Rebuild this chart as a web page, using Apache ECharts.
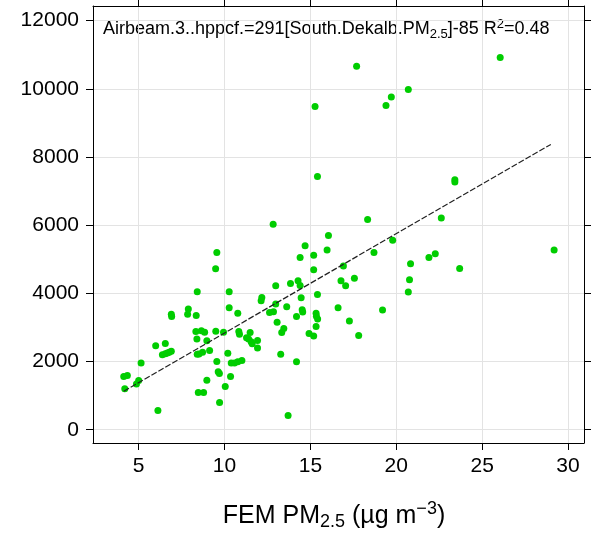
<!DOCTYPE html>
<html>
<head>
<meta charset="utf-8">
<script src="https://cdn.jsdelivr.net/npm/echarts@6/dist/echarts.min.js"></script>
<style>
  html, body { margin: 0; padding: 0; background: #fff; }
  #chart { width: 597px; height: 542px; }
</style>
</head>
<body>
<div id="chart"></div>
<script>
// FEM PM2.5 (x) vs Airbeam.3 hppcf (y)
var femPm = [
  26.05, 17.69, 20.70, 19.71, 19.40, 15.27, 15.41, 23.41, 23.41, 12.83,
  18.33, 22.62, 29.19, 16.05, 14.69, 15.97, 19.79, 14.40, 15.19, 18.70,
  21.90, 22.27, 20.83, 23.69, 15.19, 16.92, 12.98, 13.84, 14.28, 14.40,
  16.78, 17.05, 17.56, 20.77, 20.70, 15.41, 12.17, 14.46, 9.55, 9.48,
  8.41, 10.27, 7.89, 7.85, 6.90, 6.92, 8.35, 10.27, 10.77, 12.13,
  12.98, 13.62, 12.62, 12.85, 14.52, 14.55, 14.19, 15.33, 15.35, 15.42,
  15.33, 14.92, 15.19, 16.61, 17.27, 13.06, 13.45, 13.33, 8.33, 8.65,
  8.84, 8.39, 9.49, 9.94, 8.97, 8.41, 8.51, 8.72, 9.13, 5.99,
  6.55, 6.38, 6.55, 6.67, 6.90, 6.78, 5.14, 4.13, 4.34, 4.87,
  5.00, 4.19, 6.12, 8.47, 8.78, 8.97, 9.63, 9.70, 9.71, 10.04,
  10.35, 9.55, 10.19, 10.39, 10.58, 10.77, 11.01, 10.83, 10.87, 11.28,
  11.49, 11.40, 11.55, 11.61, 11.92, 11.92, 13.27, 14.19, 13.70, 17.81,
  19.20
];
var airbeam = [
  10920, 10660, 9980, 9760, 9510, 9480, 7430, 7330, 7270, 6030,
  6170, 6210, 5270, 5700, 5400, 5270, 5560, 5050, 5120, 5200,
  5050, 5160, 4870, 4730, 4690, 4800, 4220, 4290, 4370, 4230,
  4370, 4220, 4440, 4400, 4040, 3970, 3880, 3870, 5200, 4720,
  4050, 4050, 3540, 3390, 3390, 3320, 3350, 3580, 3420, 3780,
  3690, 3610, 3440, 3460, 3520, 3450, 3320, 3420, 3330, 3250,
  3030, 2820, 2750, 3580, 3190, 3150, 2970, 2850, 2880, 2900,
  2860, 2660, 2890, 2860, 2610, 2210, 2220, 2270, 2320, 2460,
  2530, 2200, 2230, 2250, 2300, 2270, 1960, 1560, 1590, 1340,
  1440, 1200, 560, 1090, 1090, 1450, 1700, 1650, 800, 1270,
  1560, 2000, 2240, 1960, 1960, 1990, 2030, 2880, 2800, 2700,
  2850, 2660, 2580, 2520, 2620, 2400, 2210, 1990, 420, 2760,
  3510
];
// fitted line end points, as drawn
var fitX = [4.13, 29.0];
var fitY = [1130, 8370];

var xTicks = [5, 10, 15, 20, 25, 30];
var yTicks = [0, 2000, 4000, 6000, 8000, 10000, 12000];

var font = 'Liberation Sans, Arial, sans-serif';

var points = femPm.map(function (v, i) { return [v, airbeam[i]]; });
var fitLine = fitX.map(function (v, i) { return [v, fitY[i]]; });

function makeX(pos, labels) {
    return {
        type: 'value',
        position: pos,
        min: 2.34,
        max: 30.93,
        axisLine: { show: true, onZero: false, lineStyle: { color: '#000', width: 1 } },
        axisTick: { show: true, inside: false, length: 7, customValues: xTicks, lineStyle: { color: '#000' } },
        axisLabel: { show: labels, customValues: xTicks, fontSize: 21, color: '#000', margin: 13, fontFamily: font },
        splitLine: { show: labels, lineStyle: { color: '#e3e3e3', width: 1 } }
    };
}
function makeY(pos, labels) {
    return {
        type: 'value',
        position: pos,
        min: -390,
        max: 12430,
        axisLine: { show: true, onZero: false, lineStyle: { color: '#000', width: 1 } },
        axisTick: { show: true, inside: false, length: 7, customValues: yTicks, lineStyle: { color: '#000' } },
        axisLabel: {
            show: labels, customValues: yTicks, fontSize: 21, color: '#000', margin: 14, fontFamily: font,
            formatter: function (v) { return String(v); }
        },
        splitLine: { show: labels, lineStyle: { color: '#e3e3e3', width: 1 } }
    };
}

var myChart = echarts.init(document.getElementById('chart'));
myChart.setOption({
    animation: false,
    backgroundColor: '#fff',
    grid: { left: 93, right: 13, top: 6, bottom: 99, containLabel: false, outerBoundsMode: 'none' },
    xAxis: [makeX('bottom', true), makeX('top', false)],
    yAxis: [makeY('left', true), makeY('right', false)],
    graphic: [
        {
            type: 'text',
            left: 103,
            top: 18,
            style: {
                text: 'Airbeam.3..hppcf.=291[South.Dekalb.PM{sub|2.5}]-85 R{sup|2}=0.48',
                fontSize: 18,
                fontFamily: font,
                fill: '#000',
                rich: {
                    sub: { fontSize: 13, fontFamily: font, fill: '#000', padding: [10, 0, 0, 0] },
                    sup: { fontSize: 13, fontFamily: font, fill: '#000', padding: [0, 0, 10, 0] }
                }
            }
        },
        {
            type: 'text',
            x: 334,
            y: 516,
            style: {
                text: 'FEM PM{sub|2.5} (µg m{sup|−3})',
                fontSize: 25,
                fontFamily: font,
                fill: '#000',
                align: 'center',
                verticalAlign: 'middle',
                rich: {
                    sub: { fontSize: 18, fontFamily: font, fill: '#000', padding: [12, 0, 0, 0] },
                    sup: { fontSize: 18, fontFamily: font, fill: '#000', padding: [0, 0, 14, 0] }
                }
            }
        }
    ],
    series: [
        {
            type: 'scatter',
            data: points,
            symbol: 'circle',
            symbolSize: 7,
            itemStyle: { color: '#00cd00', opacity: 1 },
            z: 3
        },
        {
            type: 'line',
            data: fitLine,
            symbol: 'none',
            lineStyle: { color: '#222', width: 1.2, type: [6, 2] },
            z: 4
        }
    ]
});
</script>
</body>
</html>
